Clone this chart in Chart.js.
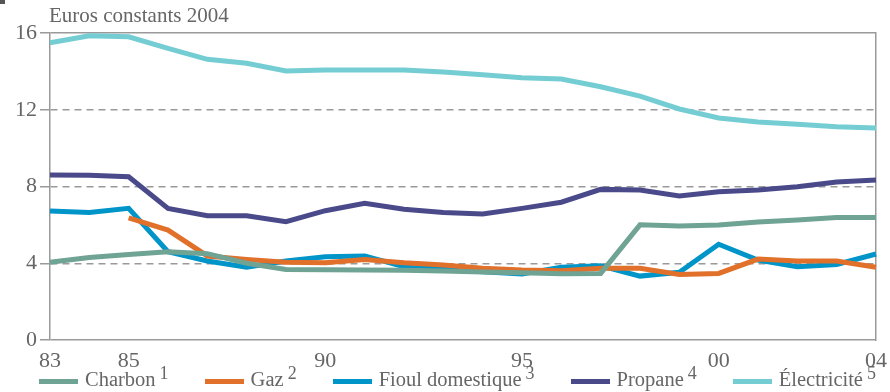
<!DOCTYPE html>
<html>
<head>
<meta charset="utf-8">
<script src="https://cdn.jsdelivr.net/npm/chart.js@4/dist/chart.umd.min.js"></script>
<style>
  html, body { margin: 0; padding: 0; background: #fff; }
  #wrap { position: relative; width: 890px; height: 392px; font-family: "Liberation Serif", serif; color: #666; }
  #unit { position: absolute; left: 49px; top: 3px; font-size: 21px; }
  #mark { position: absolute; left: 0; top: 0; width: 5px; height: 4px; background: #555; }
  #legend { position: absolute; left: 39px; top: 368px; display: flex; font-size: 20.5px; white-space: nowrap; }
  #legend .item { display: flex; align-items: center; margin-right: 36px; }
  #legend .sw { width: 39px; height: 5px; margin-right: 7px; margin-top: 4px; }
  #legend sup { font-size: 18px; vertical-align: 7px; margin-left: 4px; line-height: 0; }
</style>
</head>
<body>
<div id="wrap">
  <canvas id="chart" width="890" height="392"></canvas>
  <div id="mark"></div>
  <div id="unit">Euros constants 2004</div>
  <div id="legend"></div>
</div>
<script>
// years 1983..2004 shown as two-digit labels
const years = ['83','84','85','86','87','88','89','90','91','92','93','94','95','96','97','98','99','00','01','02','03','04'];
const shownYears = ['83','85','90','95','00','04'];
const yTicks = [0, 4, 8, 12, 16];

const seriesNames = ['Charbon', 'Gaz', 'Fioul domestique', 'Propane', 'Électricité'];
const seriesNotes = ['1', '2', '3', '4', '5'];
const seriesColors = ['#6fa393', '#e0702a', '#0095c8', '#4a4a8a', '#74cdd3'];

const charbon = [4.05, 4.3, 4.45, 4.6, 4.5, 4.0, 3.68, 3.66, 3.65, 3.63, 3.6, 3.55, 3.5, 3.45, 3.47, 6.0, 5.94, 5.99, 6.15, 6.25, 6.38, 6.38];
const gaz = [null, null, 6.37, 5.73, 4.38, 4.2, 4.05, 4.03, 4.2, 4.03, 3.91, 3.74, 3.65, 3.61, 3.74, 3.74, 3.42, 3.47, 4.22, 4.12, 4.12, 3.79];
const fioul = [6.72, 6.65, 6.86, 4.6, 4.12, 3.79, 4.12, 4.34, 4.38, 3.82, 3.7, 3.56, 3.44, 3.79, 3.87, 3.33, 3.53, 4.99, 4.17, 3.82, 3.94, 4.48];
const propane = [8.6, 8.58, 8.51, 6.86, 6.48, 6.48, 6.17, 6.74, 7.12, 6.81, 6.64, 6.57, 6.86, 7.18, 7.85, 7.82, 7.5, 7.73, 7.82, 7.99, 8.23, 8.34];
const electricite = [15.49, 15.86, 15.8, 15.2, 14.63, 14.42, 14.02, 14.07, 14.07, 14.07, 13.97, 13.82, 13.67, 13.6, 13.2, 12.71, 12.04, 11.57, 11.36, 11.24, 11.12, 11.05];

const seriesData = [charbon, gaz, fioul, propane, electricite];

const axisColor = '#9a9a9a';
const font = { family: '"Liberation Serif", serif', size: 22 };

// legend built from the series arrays
const legendEl = document.getElementById('legend');
seriesNames.forEach((name, i) => {
    const item = document.createElement('div');
    item.className = 'item';
    item.innerHTML = '<span class="sw" style="background:' + seriesColors[i] + '"></span>' +
        '<span>' + name + '<sup>' + seriesNotes[i] + '</sup></span>';
    legendEl.appendChild(item);
});

new Chart(document.getElementById('chart'), {
    type: 'line',
    data: {
        labels: years,
        datasets: seriesData.map((d, i) => ({
            label: seriesNames[i],
            data: d,
            borderColor: seriesColors[i],
            borderWidth: 5,
            pointRadius: 0,
            tension: 0,
            fill: false,
            spanGaps: false
        }))
    },
    options: {
        responsive: false,
        animation: false,
        layout: { padding: { top: 33, right: 14, left: 0, bottom: 0 } },
        plugins: { legend: { display: false }, tooltip: { enabled: false } },
        scales: {
            x: {
                offset: false,
                grid: { display: false },
                border: { display: false },
                ticks: {
                    autoSkip: false,
                    maxRotation: 0,
                    padding: 0,
                    color: '#666',
                    font: font,
                    callback: function (value) {
                        const l = years[value];
                        return shownYears.includes(l) ? l : '';
                    }
                },
                afterFit: function (scale) { scale.height = 52; }
            },
            y: {
                min: 0,
                max: 16,
                afterBuildTicks: function (scale) { scale.ticks = yTicks.map(v => ({ value: v })); },
                grid: {
                    color: axisColor,
                    lineWidth: 1.5,
                    tickLength: 10,
                    drawTicks: true
                },
                border: {
                    display: true,
                    color: axisColor,
                    width: 1.5,
                    dash: function (ctx) {
                        const v = ctx.tick ? ctx.tick.value : 0;
                        return (v === 0 || v === 16) ? [] : [7, 5];
                    }
                },
                ticks: { color: '#666', font: font, padding: 3 },
                afterFit: function (scale) { scale.width = 50; }
            },
            y2: {
                position: 'right',
                min: 0,
                max: 16,
                grid: { display: false },
                border: { display: true, color: axisColor, width: 1.5 },
                ticks: { display: false },
                afterFit: function (scale) { scale.width = 0; }
            }
        }
    }
});
</script>
</body>
</html>
